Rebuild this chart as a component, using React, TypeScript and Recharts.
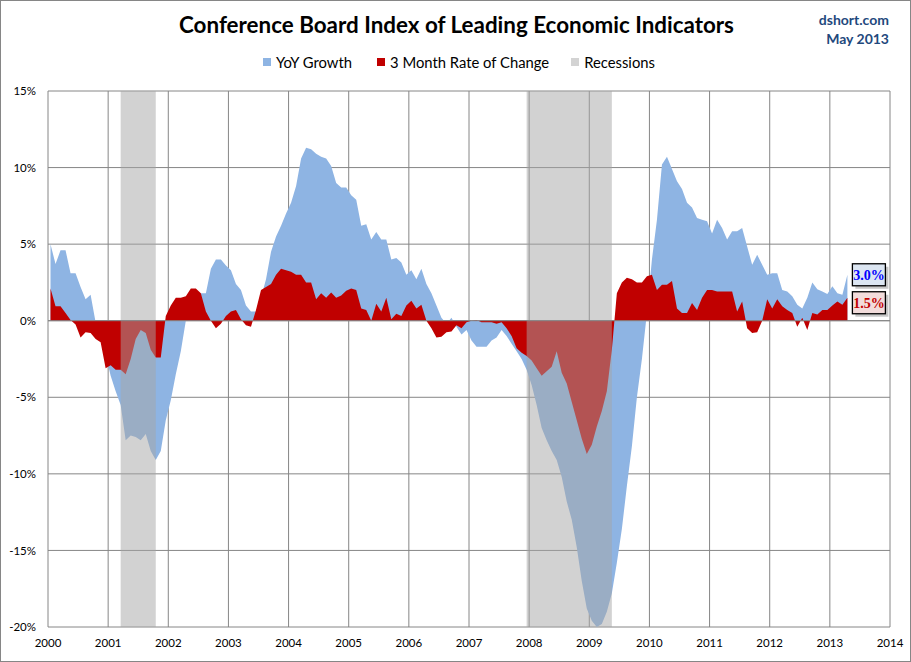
import React from 'react';
import { ComposedChart, Area, XAxis, YAxis, CartesianGrid, ReferenceArea, ReferenceLine } from 'recharts';

// monthly data, Jan 2000 .. Apr 2013
const startYear = 2000;

const yoyGrowth = [
  5.0, 3.7, 4.6, 4.6, 3.1, 3.1, 2.2, 1.4, 1.7, -0.1, -1.2, -2.2,
  -3.6, -4.6, -5.5, -7.8, -7.5, -7.6, -7.8, -7.4, -8.5, -9.1, -8.5, -6.5,
  -5.2, -3.5, -2.0, 0.0, 0.6, 1.2, 1.8, 1.8, 3.4, 4.0, 4.0, 3.6,
  3.3, 2.4, 2.0, 1.0, 0.6, 0.6, 1.5, 2.7, 4.5, 5.5, 6.2, 7.0,
  7.7, 8.8, 10.6, 11.3, 11.2, 10.9, 10.7, 10.6, 10.1, 9.0, 8.7, 8.7,
  8.2, 7.9, 6.2, 6.3, 5.3, 5.8, 5.3, 5.3, 4.0, 4.1, 3.8, 3.0,
  3.3, 2.7, 3.4, 2.4, 1.8, 1.0, 0.2, -0.2, 0.2, -0.4, -0.9, -0.6,
  -1.3, -1.7, -1.7, -1.7, -1.3, -1.1, -0.6, -1.0, -1.5, -2.0, -2.5, -3.2,
  -4.2, -5.5, -7.0, -7.8, -8.5, -9.1, -10.2, -11.8, -13.0, -14.8, -17.0, -18.8,
  -19.6, -20.0, -19.8, -19.0, -17.8, -15.8, -13.6, -10.8, -8.2, -5.0, -2.5, 0.5,
  4.0, 6.6, 10.2, 10.7, 9.9, 9.1, 8.6, 7.7, 7.4, 6.7, 6.6, 6.5,
  5.7, 6.6, 6.05, 5.3, 5.85, 5.85, 6.05, 4.85, 3.65, 4.3, 3.65, 3.0,
  3.1, 3.1, 2.0, 1.9, 1.6, 1.05, 0.8, 1.5, 2.5, 2.05, 1.9, 1.75,
  2.25, 1.8, 1.7, 3.0,
];

const threeMonthChange = [
  2.1, 0.95, 0.95, 0.5, 0.05, -0.25, -1.1, -0.75, -0.8, -1.2, -1.4, -3.1,
  -2.9, -3.2, -3.2, -3.5, -2.5, -1.2, -0.6, -0.8, -1.9, -2.4, -2.4, 0.3,
  1.0, 1.5, 1.5, 1.6, 2.1, 2.1, 1.8, 0.6, 0.0, -0.5, -0.2, 0.3,
  0.6, 0.7, 0.1, -0.3, -0.4, 0.7, 2.0, 2.2, 2.4, 3.0, 3.4, 3.3,
  3.2, 3.0, 3.0, 2.5, 2.5, 1.4, 1.8, 1.5, 1.85, 1.5, 1.65, 1.95,
  2.1, 2.0, 0.8, 0.7, 0.0, 1.1, 0.6, 1.5, 0.1, 0.45, 0.3, 1.0,
  1.3, 0.8, 1.05, 0.0, -0.5, -1.1, -1.05, -0.75, -0.7, -0.3, -0.5, -0.1,
  0.0, 0.05, -0.1, -0.1, -0.1, -0.2, -0.1, -0.5, -1.0, -1.8, -2.1, -2.3,
  -2.6, -3.1, -3.6, -3.3, -3.0, -2.0, -3.4, -4.1, -5.3, -6.5, -7.7, -8.7,
  -8.1, -6.9, -5.9, -4.6, -1.9, 1.8, 2.5, 2.8, 2.7, 2.5, 2.5, 2.9,
  3.0, 2.0, 2.35, 2.35, 2.6, 0.8, 0.5, 0.5, 1.15, 0.7, 1.5, 2.0,
  2.0, 1.9, 1.9, 1.9, 1.9, 0.6, 1.25, -0.5, -0.8, -0.75, 0.0, 1.4,
  0.8, 1.4, 0.95, 0.7, 0.5, -0.4, 0.2, -0.6, 0.5, 0.4, 0.7, 0.7,
  1.0, 1.25, 1.05, 1.5,
];

const recessions = [
  { from: '2001-03', to: '2001-10' },
  { from: '2007-12', to: '2009-05' },
];

const yearTicks = [2000, 2001, 2002, 2003, 2004, 2005, 2006, 2007, 2008, 2009, 2010, 2011, 2012, 2013, 2014];
const pctTicks = [-20, -15, -10, -5, 0, 5, 10, 15];

const BLUE = '#8EB4E3';
const RED = '#C00000';
const GRID = '#868686';
const FONT = 'Lato, "Open Sans", sans-serif';

// mid-month position in decimal years
const monthPos = (ym: string) => {
  const [y, m] = ym.split('-').map(Number);
  return y + (m - 0.5) / 12;
};

const data = yoyGrowth.map((v, i) => ({
  t: startYear + (i + 0.5) / 12,
  yoy: v,
  m3: threeMonthChange[i],
}));

function endLabel(fill: string, color: string, dy: number) {
  return (props: any) => {
    const { x, y, index, value } = props;
    if (index !== data.length - 1) return null;
    const v = Array.isArray(value) ? value[1] : value;
    const w = 33;
    const h = 22;
    const left = x + 5;
    const top = y - h / 2 + dy;
    return (
      <g>
        <rect x={left + 3} y={top + 3} width={w} height={h} fill="#000" opacity={0.22} />
        <rect x={left} y={top} width={w} height={h} fill={fill} stroke="#000" strokeWidth={1.3} />
        <text
          x={left + w / 2}
          y={top + h / 2 + 1}
          textAnchor="middle"
          dominantBaseline="central"
          fill={color}
          fontWeight="bold"
          fontSize={14}
          fontFamily='"Liberation Serif", serif'
        >
          {`${Number(v).toFixed(1)}%`}
        </text>
      </g>
    );
  };
}

function LegendItem({ color, label, gap }: { color: string; label: string; gap: number }) {
  return (
    <span style={{ display: 'inline-flex', alignItems: 'center', marginRight: gap }}>
      <span style={{ width: 8, height: 8, background: color, marginRight: 5, display: 'inline-block' }} />
      {label}
    </span>
  );
}

export default function App() {
  return (
    <div
      style={{
        position: 'absolute',
        left: 0,
        top: 0,
        width: 911,
        height: 662,
        boxSizing: 'border-box',
        border: '1px solid #868686',
        background: '#fff',
        fontFamily: FONT,
      }}
    >
      <div
        style={{
          position: 'absolute',
          top: 10,
          left: 0,
          width: 911,
          textAlign: 'center',
          fontSize: 22.4,
          fontWeight: 'bold',
          color: '#000',
        }}
      >
        Conference Board Index of Leading Economic Indicators
      </div>
      <div
        style={{
          position: 'absolute',
          top: 9,
          right: 21,
          textAlign: 'right',
          fontSize: 14,
          fontWeight: 'bold',
          color: '#1F497D',
          lineHeight: '19px',
        }}
      >
        dshort.com
        <br />
        May 2013
      </div>
      <div
        style={{
          position: 'absolute',
          top: 50,
          left: 262,
          fontSize: 14.8,
          color: '#000',
          whiteSpace: 'nowrap',
        }}
      >
        <LegendItem color={BLUE} label="YoY Growth" gap={25} />
        <LegendItem color={RED} label="3 Month Rate of Change" gap={22} />
        <LegendItem color="#D3D3D3" label="Recessions" gap={0} />
      </div>
      <div style={{ position: 'absolute', left: -1, top: -1 }}>
        <ComposedChart width={911} height={662} data={data} margin={{ top: 91, right: 21, bottom: 5, left: 0 }}>
          <CartesianGrid stroke={GRID} strokeWidth={1} />
          <XAxis
            dataKey="t"
            type="number"
            domain={[2000, 2014]}
            ticks={yearTicks}
            axisLine={false}
            tickLine={false}
            height={30}
            tick={{ fill: '#000', fontSize: 11.5, fontFamily: FONT }}
            tickMargin={6}
            interval={0}
          />
          <YAxis
            type="number"
            domain={[-20, 15]}
            ticks={pctTicks}
            allowDataOverflow
            axisLine={false}
            tickLine={false}
            width={48}
            tickFormatter={(v: number) => `${v}%`}
            tick={{ fill: '#000', fontSize: 11.5, fontFamily: FONT }}
            tickMargin={6}
            interval={0}
          />
          <Area
            dataKey="yoy"
            type="linear"
            baseValue={0}
            stroke="none"
            fill={BLUE}
            fillOpacity={1}
            isAnimationActive={false}
            dot={false}
            activeDot={false}
            label={endLabel('#DCE6F2', '#0000FF', 0)}
          />
          <Area
            dataKey="m3"
            type="linear"
            baseValue={0}
            stroke="none"
            fill={RED}
            fillOpacity={1}
            isAnimationActive={false}
            dot={false}
            activeDot={false}
            label={endLabel('#F2DCDB', RED, 5)}
          />
          {recessions.map((r) => (
            <ReferenceArea
              key={r.from}
              x1={monthPos(r.from)}
              x2={monthPos(r.to)}
              y1={-20}
              y2={15}
              fill="#A6A6A6"
              fillOpacity={0.5}
              stroke="none"
              zIndex={150}
            />
          ))}
          <ReferenceLine y={0} stroke={GRID} strokeWidth={1} zIndex={160} />
        </ComposedChart>
      </div>
    </div>
  );
}
